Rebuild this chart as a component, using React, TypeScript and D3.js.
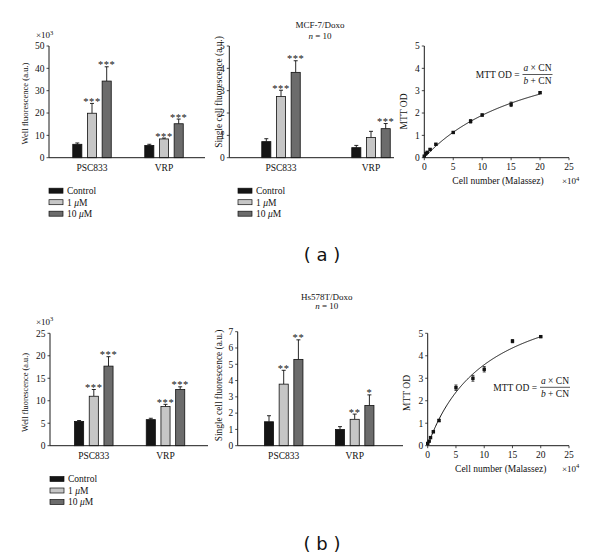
import React from "react";
import * as d3 from "d3";

// ---------- data ----------
const groups = ["PSC833", "VRP"];
const treatments = ["Control", "1", "10"];
const treatmentFills = ["#151515", "#c6c6c6", "#6c6c6c"];

// MCF-7/Doxo well fluorescence (x10^3)
const aWellMean = [[6.0, 19.9, 34.3], [5.5, 8.4, 15.2]];
const aWellErr = [[0.6, 4.4, 6.4], [0.5, 0.4, 2.1]];
const aWellStars = [["", "***", "***"], ["", "***", "***"]];
const aWellTicks = [0, 10, 20, 30, 40, 50];

// MCF-7/Doxo single cell fluorescence
const aCellMean = [[0.72, 2.74, 3.82], [0.45, 0.9, 1.3]];
const aCellErr = [[0.13, 0.28, 0.52], [0.1, 0.28, 0.23]];
const aCellStars = [["", "***", "***"], ["", "", "***"]];
const aCellTicks = [0, 1, 2, 3, 4, 5];

// Hs578T/Doxo well fluorescence (x10^3)
const bWellMean = [[5.4, 11.0, 17.7], [5.8, 8.7, 12.5]];
const bWellErr = [[0.2, 1.5, 2.1], [0.3, 0.5, 0.6]];
const bWellStars = [["", "***", "***"], ["", "***", "***"]];
const bWellTicks = [0, 5, 10, 15, 20, 25];

// Hs578T/Doxo single cell fluorescence
const bCellMean = [[1.47, 3.78, 5.3], [1.0, 1.62, 2.47]];
const bCellErr = [[0.37, 0.85, 1.2], [0.17, 0.32, 0.65]];
const bCellStars = [["", "**", "**"], ["", "**", "*"]];
const bCellTicks = [0, 1, 2, 3, 4, 5, 6, 7];

// MTT calibration
const cellNumber = [0, 0.25, 0.5, 1, 2, 5, 8, 10, 15, 20];
const aMtt = [0.07, 0.18, 0.24, 0.37, 0.6, 1.13, 1.63, 1.91, 2.39, 2.91];
const aMttErr = [0.02, 0.02, 0.02, 0.03, 0.04, 0.03, 0.08, 0.05, 0.1, 0.04];
const bMtt = [0.1, 0.2, 0.36, 0.62, 1.12, 2.58, 3.0, 3.4, 4.65, 4.85];
const bMttErr = [0.02, 0.02, 0.03, 0.04, 0.05, 0.12, 0.13, 0.12, 0.07, 0.03];
const aFit = { a: 5.7, b: 20 };
const bFit = { a: 7.42, b: 10.6 };
const mttXTicks = [0, 5, 10, 15, 20, 25];
const mttYTicks = [0, 1, 2, 3, 4, 5];

const SERIF = "'Liberation Serif', 'DejaVu Serif', serif";
const SANS = "'DejaVu Sans', sans-serif";
const AXIS = "#1a1a1a";

type BarProps = {
  L: { ax0: number; ax1: number; yb: number; yt: number; gc0: number; gc1: number };
  yMax: number;
  ticks: number[];
  means: number[][];
  errs: number[][];
  stars: string[][];
  yLabel: string;
  yl: { x: number; y: number; size: number };
  mult?: { x: number; y: number };
  legend?: { x: number; y: number };
};

function Legend({ x, y }: { x: number; y: number }) {
  const rows = [0, 1, 2];
  const ly = d3.scaleLinear().domain([0, 2]).range([y, y + 23]);
  return (
    <g>
      {rows.map((i) => (
        <g key={i}>
          <rect x={x} y={ly(i) - 2.5} width={14} height={5} fill={treatmentFills[i]} stroke="#111" strokeWidth={0.7} />
          <text x={x + 18} y={ly(i)} dy="0.35em" fontSize={9.5} fontFamily={SERIF} fill="#111">
            {i === 0 ? "Control" : (<>{treatments[i]} <tspan fontStyle="italic">μ</tspan>M</>)}
          </text>
        </g>
      ))}
    </g>
  );
}

function BarPanel(p: BarProps) {
  const { L } = p;
  const y = d3.scaleLinear().domain([0, p.yMax]).range([L.yb, L.yt]);
  const gx = d3.scalePoint<string>().domain(groups).range([L.gc0, L.gc1]);
  const bx = d3.scaleBand<string>().domain(treatments).range([-19.25, 19.25]).paddingInner(0.38);
  const bw = bx.bandwidth();
  return (
    <g>
      {groups.map((g, gi) =>
        treatments.map((t, ti) => {
          const cx = (gx(g) as number) + (bx(t) as number) + bw / 2;
          const m = p.means[gi][ti];
          const e = p.errs[gi][ti];
          const top = y(m + e);
          return (
            <g key={g + t}>
              <line x1={cx} x2={cx} y1={y(m)} y2={top} stroke="#111" strokeWidth={0.9} />
              <line x1={cx - 2} x2={cx + 2} y1={top} y2={top} stroke="#111" strokeWidth={0.9} />
              <rect x={cx - bw / 2} y={y(m)} width={bw} height={L.yb - y(m)} fill={treatmentFills[ti]} stroke="#111" strokeWidth={0.8} />
              {p.stars[gi][ti] && (
                <text x={cx} y={top + 1.5} textAnchor="middle" fontSize={10.5} letterSpacing={0.6} fontFamily={SERIF} fill="#111">
                  {p.stars[gi][ti]}
                </text>
              )}
            </g>
          );
        })
      )}
      <line x1={L.ax0} x2={L.ax0} y1={L.yb} y2={L.yt} stroke={AXIS} strokeWidth={1} />
      <line x1={L.ax0} x2={L.ax1} y1={L.yb} y2={L.yb} stroke={AXIS} strokeWidth={1} />
      {p.ticks.map((t) => (
        <g key={t}>
          <line x1={L.ax0 - 2.5} x2={L.ax0} y1={y(t)} y2={y(t)} stroke={AXIS} strokeWidth={0.8} />
          <text x={L.ax0 - 4.5} y={y(t)} dy="0.35em" textAnchor="end" fontSize={9.5} fontFamily={SERIF} fill="#111">
            {t}
          </text>
        </g>
      ))}
      {groups.map((g) => (
        <text key={g} x={gx(g)} y={L.yb + 13.5} textAnchor="middle" fontSize={9.5} fontFamily={SERIF} fill="#111">
          {g}
        </text>
      ))}
      <text transform={`translate(${p.yl.x},${p.yl.y}) rotate(-90)`} textAnchor="middle" dy="0.35em" fontSize={p.yl.size} fontFamily={SERIF} fill="#111">
        {p.yLabel}
      </text>
      {p.mult && (
        <text x={p.mult.x} y={p.mult.y} dy="0.35em" fontSize={9} fontFamily={SERIF} fill="#111">
          ×10<tspan dy="-3.5" fontSize={6.5}>3</tspan>
        </text>
      )}
      {p.legend && <Legend x={p.legend.x} y={p.legend.y} />}
    </g>
  );
}

type CurveProps = {
  L: { x0: number; x1: number; yb: number; yt: number };
  vals: number[];
  errs: number[];
  fit: { a: number; b: number };
  yl: { x: number; y: number };
  xl: { x: number; y: number };
  f: { x: number; y: number };
};

function CurvePanel(p: CurveProps) {
  const { L } = p;
  const x = d3.scaleLinear().domain([0, 25]).range([L.x0, L.x1]);
  const y = d3.scaleLinear().domain([0, 5]).range([L.yb, L.yt]);
  const xs = d3.range(0, 20.001, 0.1);
  const line = d3
    .line<number>()
    .x((v) => x(v))
    .y((v) => y((p.fit.a * v) / (p.fit.b + v)))
    .curve(d3.curveLinear);
  return (
    <g>
      <path d={line(xs) || ""} fill="none" stroke="#111" strokeWidth={1} />
      {cellNumber.map((c, i) => {
        const cx = x(c);
        const cy = y(p.vals[i]);
        const e = p.errs[i];
        return (
          <g key={i}>
            <line x1={cx} x2={cx} y1={y(p.vals[i] - e)} y2={y(p.vals[i] + e)} stroke="#111" strokeWidth={0.8} />
            <line x1={cx - 1.5} x2={cx + 1.5} y1={y(p.vals[i] + e)} y2={y(p.vals[i] + e)} stroke="#111" strokeWidth={0.8} />
            <line x1={cx - 1.5} x2={cx + 1.5} y1={y(p.vals[i] - e)} y2={y(p.vals[i] - e)} stroke="#111" strokeWidth={0.8} />
            <rect x={cx - 1.7} y={cy - 1.7} width={3.4} height={3.4} fill="#111" />
          </g>
        );
      })}
      <line x1={L.x0} x2={L.x0} y1={L.yb} y2={L.yt} stroke={AXIS} strokeWidth={1} />
      <line x1={L.x0} x2={L.x1} y1={L.yb} y2={L.yb} stroke={AXIS} strokeWidth={1} />
      {mttYTicks.map((t) => (
        <g key={t}>
          <line x1={L.x0 - 2.5} x2={L.x0} y1={y(t)} y2={y(t)} stroke={AXIS} strokeWidth={0.8} />
          <text x={L.x0 - 4.5} y={y(t)} dy="0.35em" textAnchor="end" fontSize={9.5} fontFamily={SERIF} fill="#111">
            {t}
          </text>
        </g>
      ))}
      {mttXTicks.map((t) => (
        <g key={t}>
          <line x1={x(t)} x2={x(t)} y1={L.yb} y2={L.yb + 2.5} stroke={AXIS} strokeWidth={0.8} />
          <text x={x(t)} y={L.yb + 12} textAnchor="middle" fontSize={9.5} fontFamily={SERIF} fill="#111">
            {t}
          </text>
        </g>
      ))}
      <text transform={`translate(${p.yl.x},${p.yl.y}) rotate(-90)`} textAnchor="middle" dy="0.35em" fontSize={9.5} fontFamily={SERIF} fill="#111">
        MTT OD
      </text>
      <text x={p.xl.x} y={p.xl.y} textAnchor="middle" fontSize={9.5} fontFamily={SERIF} fill="#111">
        Cell number (Malassez)
      </text>
      <text x={562} y={p.xl.y} fontSize={9} fontFamily={SERIF} fill="#111">
        ×10<tspan dy="-3.5" fontSize={6.5}>4</tspan>
      </text>
      <g fontFamily={SERIF} fontSize={9.5} fill="#111">
        <text x={p.f.x} y={p.f.y} dy="0.35em" textAnchor="end">MTT OD =</text>
        <text x={p.f.x + 18} y={p.f.y - 6.5} dy="0.35em" textAnchor="middle">
          <tspan fontStyle="italic">a</tspan> × CN
        </text>
        <line x1={p.f.x + 3} x2={p.f.x + 33} y1={p.f.y} y2={p.f.y} stroke="#111" strokeWidth={0.7} />
        <text x={p.f.x + 18} y={p.f.y + 6.5} dy="0.35em" textAnchor="middle">
          <tspan fontStyle="italic">b</tspan> + CN
        </text>
      </g>
    </g>
  );
}

export default function App() {
  return (
    <svg width={600} height={559} style={{ position: "absolute", left: 0, top: 0, background: "#fff" }}>
      <rect width={600} height={559} fill="#fff" />
      {/* ---- (a) ---- */}
      <BarPanel
        L={{ ax0: 49, ax1: 205, yb: 157.7, yt: 46, gc0: 92, gc1: 164 }}
        yMax={50}
        ticks={aWellTicks}
        means={aWellMean}
        errs={aWellErr}
        stars={aWellStars}
        yLabel="Well fluorescence (a.u.)"
        yl={{ x: 25, y: 103.5, size: 8.6 }}
        mult={{ x: 36, y: 35 }}
        legend={{ x: 49, y: 190.7 }}
      />
      <BarPanel
        L={{ ax0: 229.3, ax1: 394, yb: 157.7, yt: 46, gc0: 281, gc1: 371 }}
        yMax={5}
        ticks={aCellTicks}
        means={aCellMean}
        errs={aCellErr}
        stars={aCellStars}
        yLabel="Single cell fluorescence (a.u.)"
        yl={{ x: 219, y: 92, size: 9.4 }}
        legend={{ x: 238, y: 190.7 }}
      />
      <g fontFamily={SERIF} fontSize={9} fill="#111" textAnchor="middle">
        <text x={320} y={28}>MCF-7/Doxo</text>
        <text x={320} y={38.5}>
          <tspan fontStyle="italic">n</tspan> = 10
        </text>
      </g>
      <CurvePanel
        L={{ x0: 424.3, x1: 569, yb: 157.7, yt: 46 }}
        vals={aMtt}
        errs={aMttErr}
        fit={aFit}
        yl={{ x: 403.5, y: 111.5 }}
        xl={{ x: 498, y: 184 }}
        f={{ x: 519.5, y: 74.5 }}
      />
      <text x={322} y={261} textAnchor="middle" fontFamily={SANS} fontSize={18} fill="#111">( a )</text>

      {/* ---- (b) ---- */}
      <BarPanel
        L={{ ax0: 50, ax1: 208, yb: 445.7, yt: 333.3, gc0: 93.8, gc1: 165.5 }}
        yMax={25}
        ticks={bWellTicks}
        means={bWellMean}
        errs={bWellErr}
        stars={bWellStars}
        yLabel="Well fluorescence (a.u.)"
        yl={{ x: 25, y: 392.5, size: 8.3 }}
        mult={{ x: 36, y: 321.7 }}
        legend={{ x: 50, y: 479 }}
      />
      <BarPanel
        L={{ ax0: 237.7, ax1: 403, yb: 445.7, yt: 331.7, gc0: 283.7, gc1: 354.7 }}
        yMax={7}
        ticks={bCellTicks}
        means={bCellMean}
        errs={bCellErr}
        stars={bCellStars}
        yLabel="Single cell fluorescence (a.u.)"
        yl={{ x: 219, y: 385.5, size: 9.4 }}
      />
      <g fontFamily={SERIF} fontSize={9} fill="#111" textAnchor="middle">
        <text x={326.7} y={300}>Hs578T/Doxo</text>
        <text x={326.7} y={309}>
          <tspan fontStyle="italic">n</tspan> = 10
        </text>
      </g>
      <CurvePanel
        L={{ x0: 427.7, x1: 569, yb: 445.7, yt: 333.3 }}
        vals={bMtt}
        errs={bMttErr}
        fit={bFit}
        yl={{ x: 406.7, y: 393 }}
        xl={{ x: 500.7, y: 471.5 }}
        f={{ x: 537, y: 387.3 }}
      />
      <text x={322} y={550} textAnchor="middle" fontFamily={SANS} fontSize={18} fill="#111">( b )</text>
    </svg>
  );
}
